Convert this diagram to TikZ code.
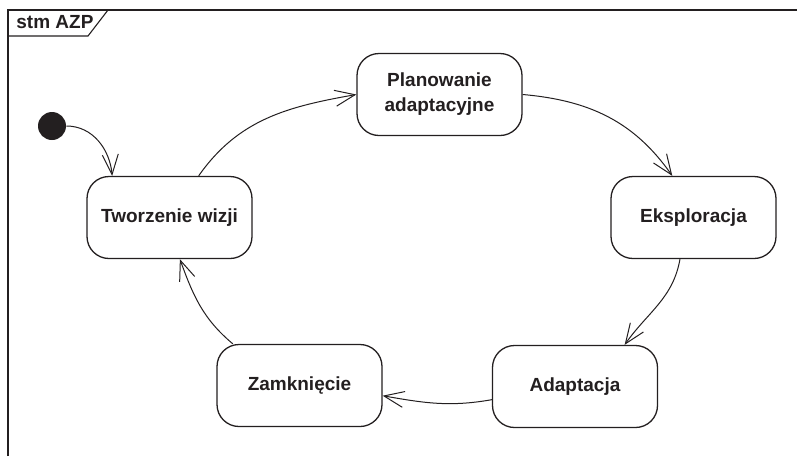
\documentclass[tikz,border=0pt]{standalone}
\usepackage{fontspec}
\setmainfont{Liberation Sans}
\usepackage{xcolor}
\usepackage{tikz}
\usetikzlibrary{arrows.meta}
\definecolor{ink}{HTML}{231F20}
\tikzset{
  ar/.style={-{Straight Barb[length=10pt,width=8pt]},line width=0.5pt,ink},
  st/.style={draw=ink,line width=0.65pt,rounded corners=11pt,minimum width=82.5pt,minimum height=41pt,inner sep=0pt,align=center,font=\fontsize{9.5}{12.5}\selectfont\bfseries,text=ink},
  ini/.style={circle,fill=ink,minimum size=14pt,inner sep=0pt}
}

\begin{document}
\begin{tikzpicture}[x=0.5pt,y=-0.5pt]
\useasboundingbox (0,0) rectangle (797,456);
\draw[ink,line width=0.55pt] (8,456)--(8,10)--(797,10);
\draw[ink,line width=0.55pt] (8,36)--(88,36)--(108,10);
\node[font=\fontsize{9.5}{12}\selectfont\bfseries,text=ink,anchor=base west,inner sep=0pt] (tag) at (16,28) {stm AZP};
\node[ini] (start) at (52,126) {};
\node[st] (wizja) at (169.5,217.5) {Tworzenie wizji};
\node[st] (plan) at (439.5,94.5) {Planowanie\\adaptacyjne};
\node[st] (eksp) at (693.5,217.5) {Eksploracja};
\node[st] (adapt) at (575,386.5) {Adaptacja};
\node[st] (zamk) at (299.5,385.5) {Zamknięcie};
\draw[ar] (start.east) to[out=0,in=95] (wizja.144);
\draw[ar] (wizja.55) to[out=55,in=190] (plan.west);
\draw[ar] (plan.east) to[out=-5,in=125] (eksp.117);
\draw[ar] (eksp.252) to[out=-100,in=55] (adapt.40);
\draw[ar] (adapt.189) to[out=190,in=-10] (zamk.-7);
\draw[ar] (zamk.148) to[out=140,in=-70] (wizja.-76);
\end{tikzpicture}
\end{document}
